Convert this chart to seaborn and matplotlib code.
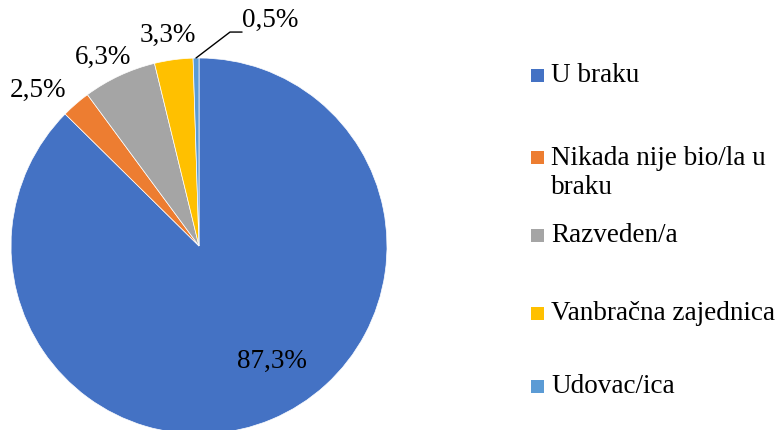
import matplotlib
matplotlib.use("Agg")
import matplotlib.pyplot as plt
import seaborn as sns
from matplotlib.patches import Rectangle

categories = ["U braku", "Nikada nije bio/la u\nbraku", "Razveden/a", "Vanbračna zajednica", "Udovac/ica"]
values = [87.3, 2.5, 6.3, 3.3, 0.5]
pct_labels = ["87,3%", "2,5%", "6,3%", "3,3%", "0,5%"]
colors = ["#4472C4", "#ED7D31", "#A5A5A5", "#FFC000", "#5B9BD5"]

sns.set_theme(style="white")
plt.rcParams['font.family'] = ['Liberation Serif', 'DejaVu Serif']

W, H = 778, 431
fig = plt.figure(figsize=(W / 100, H / 100), dpi=100)
fig.patch.set_facecolor("white")

cx, cy, r = 199, 247, 188
ax = fig.add_axes([(cx - r) / W, (H - cy - r) / H, 2 * r / W, 2 * r / H])
ax.set_aspect("equal")
ax.axis("off")

wedges, _ = ax.pie(values, colors=colors, startangle=90, counterclock=False,
                   radius=1.0, wedgeprops=dict(linewidth=0.5, edgecolor="white"))
ax.set_xlim(-1, 1)
ax.set_ylim(-1, 1)

fs = 19.5
# label positions (relative to pie radius)
label_pos = [(0.39, -0.61), (-0.856, 0.835), (-0.51, 1.01), (-0.165, 1.128), (0.378, 1.207)]
for (x, y), t in zip(label_pos, pct_labels):
    ax.text(x, y, t, ha="center", va="center", fontsize=fs, color="black", clip_on=False)

# leader line for the smallest slice
ax.plot([-0.016, 0.165, 0.229], [1.0, 1.138, 1.138], color="black", lw=1.0, clip_on=False)

# legend drawn manually
leg_y = [76, 158, 236, 314, 387]
for y, c, lab in zip(leg_y, colors, categories):
    fig.patches.append(Rectangle((531 / W, (H - y - 6.5) / H), 13 / W, 13 / H,
                                 transform=fig.transFigure, facecolor=c, edgecolor="none"))
    if "\n" in lab:
        fig.text(551 / W, (H - y + 12) / H, lab, ha="left", va="top",
                 fontsize=fs, color="black", linespacing=1.22)
    else:
        fig.text(551 / W, (H - y) / H, lab, ha="left", va="center",
                 fontsize=fs, color="black")

fig.savefig("out.png", dpi=100, facecolor="white")
